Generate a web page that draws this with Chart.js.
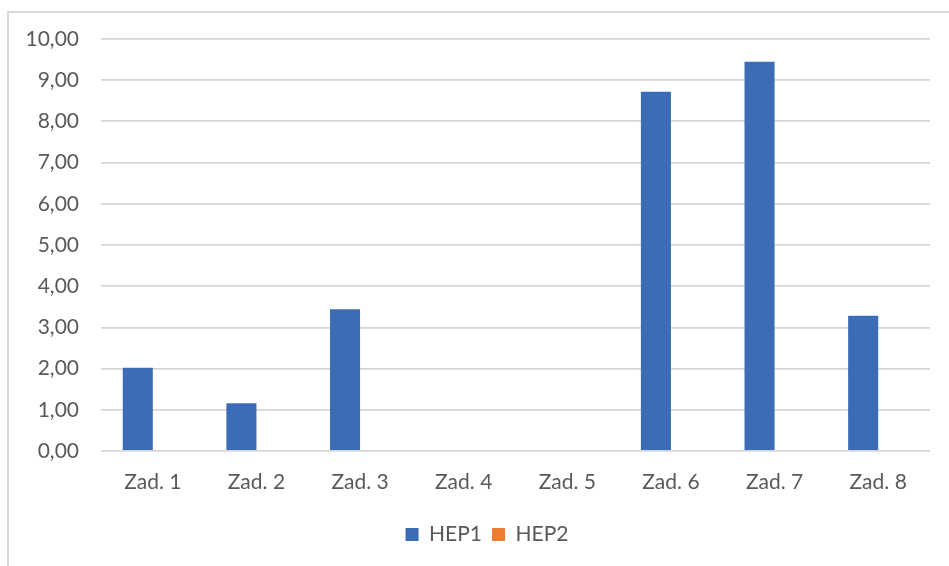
<!DOCTYPE html>
<html>
<head>
<meta charset="utf-8">
<script src="https://cdn.jsdelivr.net/npm/chart.js@4/dist/chart.umd.min.js"></script>
<style>
  html, body { margin: 0; padding: 0; background: #fff; }
  body { width: 949px; height: 566px; position: relative; overflow: hidden; }
  #frame { position: absolute; left: 7px; top: 11px; width: 960px; height: 600px;
           border: 2px solid #d9d9d9; box-sizing: border-box; }
  #wrap { position: absolute; left: 0; top: 0; width: 949px; height: 566px; }
</style>
</head>
<body>
<div id="frame"></div>
<div id="wrap"><canvas id="c" width="949" height="566"></canvas></div>
<script>
// Task scores per series
const categories = ['Zad. 1', 'Zad. 2', 'Zad. 3', 'Zad. 4', 'Zad. 5', 'Zad. 6', 'Zad. 7', 'Zad. 8'];
const hep1 = [2.02, 1.16, 3.44, 0, 0, 8.72, 9.45, 3.28];
const hep2 = [0, 0, 0, 0, 0, 0, 0, 0];
const seriesNames = ['HEP1', 'HEP2'];
const yTicks = [0, 1, 2, 3, 4, 5, 6, 7, 8, 9, 10];

const textColor = '#595959';
const fontFamily = 'Lato, "Open Sans", sans-serif';
const fontSize = 21;

const fmt = v => v.toFixed(2).replace('.', ',');

// Centre the legend under the whole frame rather than the padded layout width
const legendShift = {
  id: 'legendShift',
  afterLayout(chart) {
    const lg = chart.legend;
    if (!lg) return;
    const dx = 22;
    lg.left += dx;
    lg.right += dx;
    (lg.legendHitBoxes || []).forEach(h => { h.left += dx; });
  }
};

new Chart(document.getElementById('c'), {
  type: 'bar',
  data: {
    labels: categories,
    datasets: [
      { label: seriesNames[0], data: hep1, backgroundColor: '#3d6cb6', borderWidth: 0,
        categoryPercentage: 0.58, barPercentage: 1.0 },
      { label: seriesNames[1], data: hep2, backgroundColor: '#ed7d31', borderWidth: 0,
        categoryPercentage: 0.58, barPercentage: 1.0 }
    ]
  },
  plugins: [legendShift],
  options: {
    responsive: false,
    animation: false,
    layout: { padding: { left: 0, right: 19, top: 39, bottom: 11 } },
    plugins: {
      tooltip: { enabled: false },
      legend: {
        position: 'bottom',
        labels: {
          color: textColor,
          font: { family: fontFamily, size: fontSize },
          boxWidth: 13, boxHeight: 13, padding: 10
        }
      }
    },
    scales: {
      x: {
        grid: { display: false, drawTicks: false },
        border: { display: false },
        ticks: { color: textColor, font: { family: fontFamily, size: fontSize }, padding: 19 },
        afterFit: s => { s.height = 63; }
      },
      y: {
        min: 0, max: 10,
        afterBuildTicks: s => { s.ticks = yTicks.map(v => ({ value: v })); },
        grid: { color: '#d6d6d6', lineWidth: 1.8, drawTicks: false },
        border: { display: false },
        ticks: { color: textColor, font: { family: fontFamily, size: fontSize }, padding: 22,
                 callback: v => fmt(v) },
        afterFit: s => { s.width = 101; }
      }
    }
  }
});
</script>
</body>
</html>
